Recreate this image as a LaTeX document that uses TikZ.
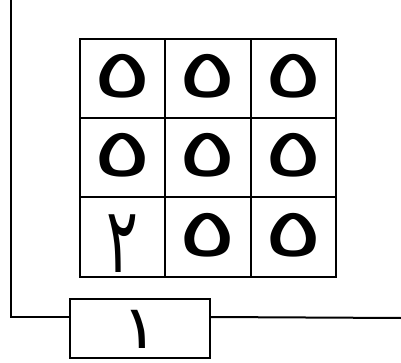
\documentclass[tikz,border=0pt]{standalone}
\usepackage{fontspec}
\newfontfamily\arabicfont[Script=Arabic]{DejaVu Sans}
\usetikzlibrary{positioning, calc}

% glyphs, stretched and centred on the node's middle
\newcommand{\five}{\raisebox{-19pt}[0pt][0pt]{\scalebox{1.6}[0.96]{٥}}}
\newcommand{\two}{\raisebox{-35.5pt}[0pt][0pt]{\scalebox{0.85}[1.3]{٢}}}
\newcommand{\unit}{\raisebox{-19.5pt}[0pt][0pt]{\scalebox{1}[0.86]{١}}}

\tikzset{
  cell/.style={draw, line width=2pt, minimum width=85.5pt, minimum height=79pt, inner sep=0pt, font=\arabicfont\fontsize{70}{70}\selectfont},
  slot/.style={draw, line width=2pt, minimum width=140pt, minimum height=59pt, inner sep=0pt, font=\arabicfont\fontsize{70}{70}\selectfont},
  wire/.style={line width=2pt}
}

\begin{document}
\begin{tikzpicture}[x=1pt,y=1pt,node distance=79pt and 85.5pt,on grid]
    \useasboundingbox (0,0) rectangle (401,-363);

    % grid of cells
    \node[cell] (A) at (122.5,-79) {\five};
    \node[cell] (B) [right=of A] {\five};
    \node[cell] (C) [right=of B] {\five};
    \node[cell] (D) [below=of A] {\five};
    \node[cell] (E) [right=of D] {\five};
    \node[cell] (F) [right=of E] {\five};
    \node[cell] (G) [below=of D] {\two};
    \node[cell] (H) [right=of G] {\five};
    \node[cell] (I) [right=of H] {\five};

    % bottom box and wire
    \node[slot] (one) at (140,-328.5) {\unit};
    \coordinate (top) at (11,0);
    \coordinate (far) at (401,-318);
    \coordinate (wl) at ([yshift=-19pt]one.north west);
    \coordinate (wr) at ([yshift=-19pt]one.north east);

    \draw[wire] (top) |- (wl);
    \draw[wire] (wr) -- (far);

\end{tikzpicture}
\end{document}
